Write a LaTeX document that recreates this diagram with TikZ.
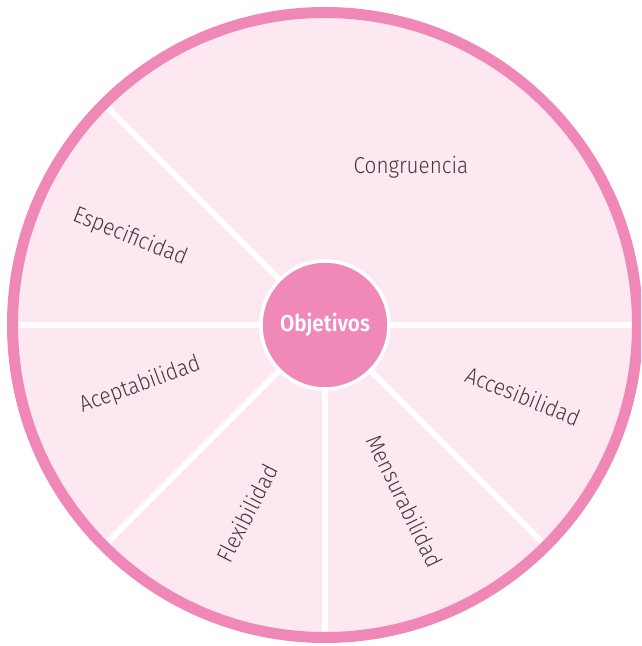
\documentclass[tikz,border=0pt]{standalone}
\usepackage{fontspec}
\usetikzlibrary{calc}
\setmainfont{Fira Sans}[UprightFont={* Light},BoldFont={* SemiBold},FakeStretch=0.9]
\definecolor{ringpink}{HTML}{EF88B7}
\definecolor{corepink}{HTML}{F088B8}
\definecolor{lightpink}{HTML}{FDE7F1}
\definecolor{labelgray}{HTML}{3E3A3C}
\tikzset{
  spoke/.style={draw=white,line width=6pt},
  lbl/.style={text=labelgray,font=\fontsize{23}{26}\selectfont,inner sep=0pt},
}
\begin{document}
\begin{tikzpicture}[x=1pt,y=1pt]
\useasboundingbox (0,0) rectangle (641,646);
\clip (0,0) rectangle (641,646);
% centre at image (325,325) -> (325,321)
\coordinate (c) at (325,321);
\fill[lightpink] (c) circle (312);
% spoke ends
\coordinate (e0) at ($(c)+(0:312)$);
\coordinate (e135) at ($(c)+(135:312)$);
\coordinate (e180) at ($(c)+(180:312)$);
\coordinate (e225) at ($(c)+(225:312)$);
\coordinate (e270) at ($(c)+(270:312)$);
\coordinate (e315) at ($(c)+(315:312)$);
\foreach \e in {e0,e135,e180,e225,e270,e315}{\draw[spoke] (c) -- (\e);}
\draw[ringpink,line width=11pt] (c) circle (312.5);
\node[circle,fill=corepink,draw=white,line width=3.5pt,minimum size=128pt,inner sep=0pt,
  text=white,font=\bfseries\fontsize{23}{26}\selectfont] (core) at (c) {Objetivos};
\node[lbl] (congr) at (411,479) {Congruencia};
\node[lbl,rotate=-22] (espec) at (130,409) {Especificidad};
\node[lbl,rotate=20] (acept) at (140,261) {Aceptabilidad};
\node[lbl,rotate=63] (flex) at (247,133) {Flexibilidad};
\node[lbl,rotate=-64] (mens) at (405,145) {Mensurabilidad};
\node[lbl,rotate=-22] (acces) at (523,250) {Accesibilidad};
\end{tikzpicture}
\end{document}
